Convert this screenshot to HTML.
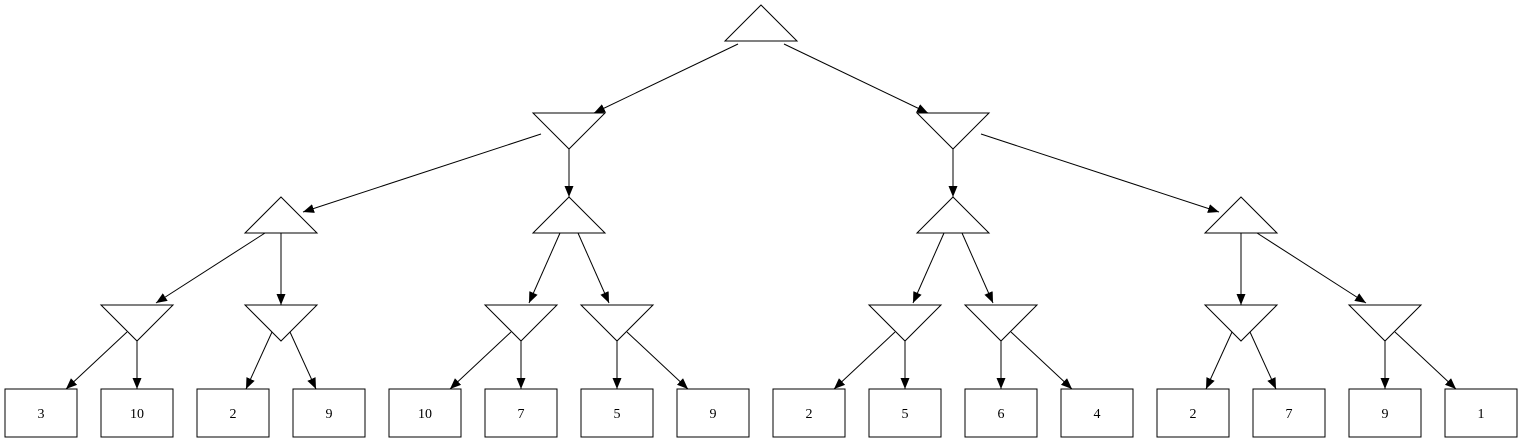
<!DOCTYPE html>
<html><head><meta charset="utf-8"><style>
html,body{margin:0;padding:0;background:#fff;}
svg{display:block;}
text{font-family:"Liberation Serif",serif;font-size:14px;}
</style></head><body>
<svg width="1523" height="443" viewBox="0 0 1523 443" xmlns="http://www.w3.org/2000/svg">
<defs>
<marker id="a" markerUnits="userSpaceOnUse" markerWidth="13" markerHeight="11" refX="11" refY="4.5" orient="auto">
<path d="M0,0 L11,4.5 L0,9 Z" fill="#000"/>
</marker>
</defs>
<g fill="none" stroke="#000" stroke-width="1">
<polygon points="761,5 797,41 725,41"/>
<polygon points="533,113 605,113 569,149"/>
<polygon points="917,113 989,113 953,149"/>
<polygon points="281,197 317,233 245,233"/>
<polygon points="569,197 605,233 533,233"/>
<polygon points="953,197 989,233 917,233"/>
<polygon points="1241,197 1277,233 1205,233"/>
<polygon points="101,305 173,305 137,341"/>
<polygon points="245,305 317,305 281,341"/>
<polygon points="485,305 557,305 521,341"/>
<polygon points="581,305 653,305 617,341"/>
<polygon points="869,305 941,305 905,341"/>
<polygon points="965,305 1037,305 1001,341"/>
<polygon points="1205,305 1277,305 1241,341"/>
<polygon points="1349,305 1421,305 1385,341"/>
<rect x="5" y="389" width="72" height="48"/>
<rect x="101" y="389" width="72" height="48"/>
<rect x="197" y="389" width="72" height="48"/>
<rect x="293" y="389" width="72" height="48"/>
<rect x="389" y="389" width="72" height="48"/>
<rect x="485" y="389" width="72" height="48"/>
<rect x="581" y="389" width="72" height="48"/>
<rect x="677" y="389" width="72" height="48"/>
<rect x="773" y="389" width="72" height="48"/>
<rect x="869" y="389" width="72" height="48"/>
<rect x="965" y="389" width="72" height="48"/>
<rect x="1061" y="389" width="72" height="48"/>
<rect x="1157" y="389" width="72" height="48"/>
<rect x="1253" y="389" width="72" height="48"/>
<rect x="1349" y="389" width="72" height="48"/>
<rect x="1445" y="389" width="72" height="48"/>
</g>
<g stroke="#000" stroke-width="1" marker-end="url(#a)">
<line x1="738" y1="44" x2="594" y2="113"/>
<line x1="784" y1="44" x2="928" y2="113"/>
<line x1="541" y1="134" x2="303" y2="212"/>
<line x1="569" y1="149" x2="569" y2="197"/>
<line x1="953" y1="149" x2="953" y2="197"/>
<line x1="981" y1="134" x2="1219" y2="212"/>
<line x1="265" y1="233" x2="156" y2="303"/>
<line x1="281" y1="233" x2="281" y2="305"/>
<line x1="560" y1="233" x2="529" y2="303"/>
<line x1="578" y1="233" x2="609" y2="303"/>
<line x1="944" y1="233" x2="913" y2="303"/>
<line x1="962" y1="233" x2="993" y2="303"/>
<line x1="1241" y1="233" x2="1241" y2="305"/>
<line x1="1257" y1="233" x2="1366" y2="303"/>
<line x1="127" y1="332" x2="66" y2="389"/>
<line x1="137" y1="341" x2="137" y2="389"/>
<line x1="272" y1="332" x2="246" y2="389"/>
<line x1="290" y1="332" x2="316" y2="389"/>
<line x1="511" y1="332" x2="450" y2="389"/>
<line x1="521" y1="341" x2="521" y2="389"/>
<line x1="617" y1="341" x2="617" y2="389"/>
<line x1="627" y1="332" x2="688" y2="389"/>
<line x1="895" y1="332" x2="834" y2="389"/>
<line x1="905" y1="341" x2="905" y2="389"/>
<line x1="1001" y1="341" x2="1001" y2="389"/>
<line x1="1011" y1="332" x2="1072" y2="389"/>
<line x1="1232" y1="332" x2="1206" y2="389"/>
<line x1="1250" y1="332" x2="1276" y2="389"/>
<line x1="1385" y1="341" x2="1385" y2="389"/>
<line x1="1395" y1="332" x2="1456" y2="389"/>
</g>
<g text-anchor="middle">
<text x="41" y="418">3</text>
<text x="137" y="418">10</text>
<text x="233" y="418">2</text>
<text x="329" y="418">9</text>
<text x="425" y="418">10</text>
<text x="521" y="418">7</text>
<text x="617" y="418">5</text>
<text x="713" y="418">9</text>
<text x="809" y="418">2</text>
<text x="905" y="418">5</text>
<text x="1001" y="418">6</text>
<text x="1097" y="418">4</text>
<text x="1193" y="418">2</text>
<text x="1289" y="418">7</text>
<text x="1385" y="418">9</text>
<text x="1481" y="418">1</text>
</g>
</svg>
</body></html>
